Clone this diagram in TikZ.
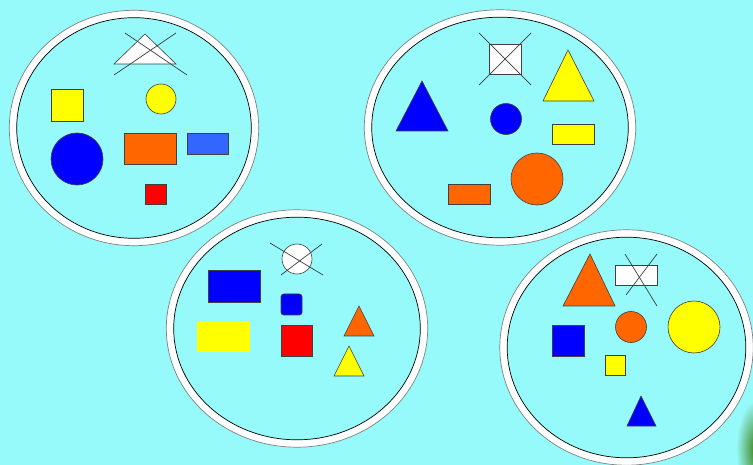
\documentclass[tikz,border=0pt]{standalone}
\usepackage{xcolor}
\usepackage{tikz}

\definecolor{bgcyan}{RGB}{150,250,250}
\definecolor{shorange}{RGB}{255,102,0}
\definecolor{shyellow}{RGB}{255,255,0}
\definecolor{shblue}{RGB}{0,0,255}
\definecolor{shred}{RGB}{255,0,0}
\definecolor{shsky}{RGB}{51,102,255}
\definecolor{crossgray}{RGB}{60,60,60}
\definecolor{leafgreen}{RGB}{60,130,20}

\begin{document}
\begin{tikzpicture}[x=0.02cm, y=-0.02cm,
        ring/.style={draw=white, line width=4.2pt},
        outeredge/.style={draw=gray, line width=0.4pt},
        inneredge/.style={draw=black, line width=0.4pt},
        piece/.style={draw=black!75, line width=0.35pt},
        crossline/.style={draw=crossgray, line width=0.4pt}]
        \fill[bgcyan] (0,0) rectangle (753,465);
        \useasboundingbox (0,0) rectangle (753,465);
        \begin{scope}
            \clip (0,0) rectangle (753,465);
            \shade[inner color=leafgreen, outer color=bgcyan] (756,450) ellipse (20 and 50);
        \end{scope}

        % top left set
        \draw[ring] (134,128) ellipse (121 and 114);
        \draw[outeredge] (134,128) ellipse (124.7 and 117.7);
        \draw[inneredge] (134,128) ellipse (117.3 and 110.3);
        \draw[piece, fill=white] (145,34) -- (176,64) -- (114,64) -- cycle;
        \draw[crossline] (125,33) -- (187,75);
        \draw[crossline] (176,33) -- (114,75);
        \draw[piece, fill=shyellow] (51,89) rectangle (83,121);
        \draw[piece, fill=shyellow] (161,99) circle (15);
        \draw[piece, fill=shblue] (77,159) circle (26);
        \draw[piece, fill=shorange] (124,133) rectangle (176,164);
        \draw[piece, fill=shsky] (187,133) rectangle (228,154);
        \draw[piece, fill=shred] (145,184) rectangle (166,204);

        % top right set
        \draw[ring] (500,127.5) ellipse (132 and 114);
        \draw[outeredge] (500,127.5) ellipse (135.7 and 117.7);
        \draw[inneredge] (500,127.5) ellipse (128.3 and 110.3);
        \draw[piece, fill=white] (489,44) rectangle (521,74);
        \draw[crossline] (479,33) -- (531,85);
        \draw[crossline] (531,33) -- (479,85);
        \draw[piece, fill=shyellow] (568,50) -- (594,101) -- (543,101) -- cycle;
        \draw[piece, fill=shblue] (422,81) -- (448,131) -- (396,131) -- cycle;
        \draw[piece, fill=shblue] (506,119) circle (15.5);
        \draw[piece, fill=shyellow] (552,124) rectangle (594,144);
        \draw[piece, fill=shorange] (537,179) circle (26);
        \draw[piece, fill=shorange] (448,184) rectangle (490,204);

        % bottom middle set
        \draw[ring] (297,328.5) ellipse (127 and 115);
        \draw[outeredge] (297,328.5) ellipse (130.7 and 118.7);
        \draw[inneredge] (297,328.5) ellipse (123.3 and 111.3);
        \draw[piece, fill=white] (297,259) circle (15);
        \draw[crossline] (270,243) -- (323,275);
        \draw[crossline] (322,244) -- (281,275);
        \draw[piece, fill=shblue] (208,270) rectangle (260,302);
        \draw[piece, fill=shblue, rounded corners=1.5pt] (281,294) rectangle (302,315);
        \fill[shyellow] (197,321) rectangle (250,352);
        \draw[piece, fill=shred] (281,325) rectangle (312,356);
        \draw[piece, fill=shorange] (359,306) -- (374,336) -- (344,336) -- cycle;
        \draw[piece, fill=shyellow] (349,346) -- (364,376) -- (334,376) -- cycle;

        % bottom right set
        \draw[ring] (626.5,347.5) ellipse (123 and 114);
        \draw[outeredge] (626.5,347.5) ellipse (126.7 and 117.7);
        \draw[inneredge] (626.5,347.5) ellipse (119.3 and 110.3);
        \draw[piece, fill=shorange] (590,254) -- (615,306) -- (563,306) -- cycle;
        \draw[piece, fill=white] (615,265) rectangle (657,285);
        \draw[crossline] (625,254) -- (657,306);
        \draw[crossline] (657,254) -- (626,295);
        \draw[piece, fill=shorange] (631,327) circle (15.5);
        \draw[piece, fill=shyellow] (694,327) circle (26);
        \draw[piece, fill=shblue] (552,325) rectangle (584,356);
        \draw[piece, fill=shyellow] (605,355) rectangle (625,375);
        \draw[piece, fill=shblue] (641,396) -- (656,426) -- (627,426) -- cycle;
    \end{tikzpicture}
\end{document}
